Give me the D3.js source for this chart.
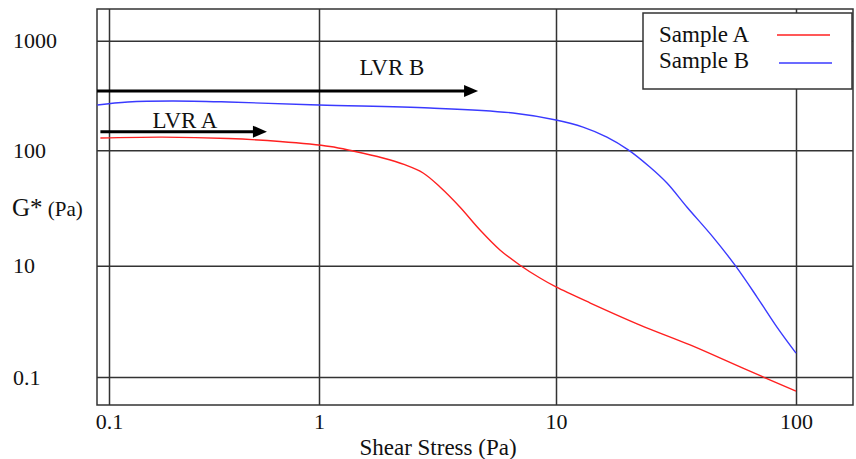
<!DOCTYPE html>
<html>
<head>
<meta charset="utf-8">
<script src="https://cdn.jsdelivr.net/npm/d3@7"></script>
<style>
  body { margin: 0; background: #fff; }
  svg text { font-family: "Liberation Serif", "Times New Roman", serif; fill: #111; }
</style>
</head>
<body>
<div id="chart"></div>
<script>
// data (shear stress in Pa, G* in Pa)
let xTicks = [0.1, 1, 10, 100];
let xTickLabels = ["0.1", "1", "10", "100"];
let yTicks = [1000, 100, 10, 1];
let yTickLabels = ["1000", "100", "10", "0.1"];

let stressA = [0.091, 0.179, 0.37, 0.652, 1.113, 1.39, 1.86, 2.3, 2.75, 3.24, 3.93, 4.78, 5.8, 7.05, 8.56, 10, 13.9, 22.4, 36.2, 60.1, 100];
let gA = [129.5, 132, 128.1, 120.3, 108.3, 98.6, 85.8, 75, 63.6, 48.1, 32.3, 20.4, 13.7, 10.1, 7.75, 6.44, 4.62, 2.93, 1.94, 1.2, 0.748];

let stressB = [0.088, 0.123, 0.2, 0.37, 1.0, 2.94, 6.59, 10, 12.96, 16.3, 20, 24.6, 29.0, 35.1, 45.1, 55.7, 68.8, 83.3, 100];
let gB = [259, 276, 282, 276, 259, 243, 219, 189, 163, 132, 101, 71.7, 52.1, 32.3, 17.7, 10.1, 5.23, 2.81, 1.64];

// linear viscoelastic region arrows: [from, to, level]
let lvrA = [0.091, 0.565, 148];
let lvrB = [0.0877, 4.69, 348];

let svgWidth = 856;
let svgHeight = 459;
let frame = { left: 97, top: 9, right: 853, bottom: 405 };

let svg = d3.select("#chart")
  .append("svg")
  .attr("width", svgWidth)
  .attr("height", svgHeight);

// the decades are not quite evenly spaced in the original, so piecewise log scales
let x = d3.scaleLog()
  .domain([0.1, 1, 10, 100])
  .range([109, 319, 556, 796]);

let y = d3.scaleLog()
  .domain([1000, 100, 10, 1])
  .range([40.7, 150.3, 265.7, 377]);

let gridColor = "#333";

// grid via axes
let xAxis = d3.axisBottom(x)
  .tickValues(xTicks)
  .tickSize(-(frame.bottom - frame.top))
  .tickFormat((d, i) => xTickLabels[i]);

let gx = svg.append("g")
  .attr("transform", `translate(0, ${frame.bottom})`)
  .call(xAxis);
gx.select(".domain").remove();
gx.selectAll("line").attr("stroke", gridColor).attr("stroke-width", 1.5);
gx.selectAll("text")
  .attr("y", 24)
  .attr("dy", 0)
  .attr("font-size", 22)
  .attr("font-family", "Liberation Serif, serif")
  .attr("fill", "#111");

let yAxis = d3.axisLeft(y)
  .tickValues(yTicks)
  .tickSize(-(frame.right - frame.left))
  .tickFormat((d, i) => yTickLabels[i]);

let gy = svg.append("g")
  .attr("transform", `translate(${frame.left}, 0)`)
  .call(yAxis);
gy.select(".domain").remove();
gy.selectAll("line").attr("stroke", gridColor).attr("stroke-width", 1.5);
gy.selectAll("text")
  .attr("x", 13 - frame.left)
  .attr("dy", 7)
  .attr("text-anchor", "start")
  .attr("font-size", 22)
  .attr("font-family", "Liberation Serif, serif")
  .attr("fill", "#111");

// frame
svg.append("rect")
  .attr("x", frame.left)
  .attr("y", frame.top)
  .attr("width", frame.right - frame.left)
  .attr("height", frame.bottom - frame.top)
  .attr("fill", "none")
  .attr("stroke", gridColor)
  .attr("stroke-width", 1.5);

// curves
let line = d3.line()
  .x(d => x(d[0]))
  .y(d => y(d[1]))
  .curve(d3.curveCatmullRom.alpha(0.5));

svg.append("path")
  .datum(d3.zip(stressA, gA))
  .attr("d", line)
  .attr("fill", "none")
  .attr("stroke", "#ff2020")
  .attr("stroke-width", 1.4);

svg.append("path")
  .datum(d3.zip(stressB, gB))
  .attr("d", line)
  .attr("fill", "none")
  .attr("stroke", "#3a3aff")
  .attr("stroke-width", 1.4);

// LVR arrows
function arrow(lvr, label, labelX, labelUp) {
  let x0 = x(lvr[0]), x1 = x(lvr[1]), yy = y(lvr[2]);
  svg.append("line")
    .attr("x1", x0).attr("x2", x1 - 10)
    .attr("y1", yy).attr("y2", yy)
    .attr("stroke", "#000")
    .attr("stroke-width", 3);
  svg.append("path")
    .attr("d", `M${x1 - 14},${yy - 6}L${x1},${yy}L${x1 - 14},${yy + 6}Z`)
    .attr("fill", "#000");
  svg.append("text")
    .attr("x", x(labelX))
    .attr("y", yy - labelUp)
    .attr("text-anchor", "middle")
    .attr("font-size", 23)
    .text(label);
}
arrow(lvrA, "LVR A", 0.23, 4);
arrow(lvrB, "LVR B", 2.03, 16);

// y title
let yt = svg.append("text")
  .attr("x", 12)
  .attr("y", 216);
yt.append("tspan").attr("font-size", 25).text("G*");
yt.append("tspan").attr("font-size", 21).text(" (Pa)");

// x title
svg.append("text")
  .attr("x", 438)
  .attr("y", 455)
  .attr("text-anchor", "middle")
  .attr("font-size", 23)
  .text("Shear Stress (Pa)");

// legend
let legend = svg.append("g");
legend.append("rect")
  .attr("x", 643).attr("y", 13)
  .attr("width", 209).attr("height", 76)
  .attr("fill", "#fff")
  .attr("stroke", gridColor)
  .attr("stroke-width", 1.5);

let legendItems = [
  { name: "Sample A", color: "#ff2020" },
  { name: "Sample B", color: "#3a3aff" }
];
legendItems.forEach(function(d, i) {
  legend.append("text")
    .attr("x", 659)
    .attr("y", 42 + i * 26)
    .attr("font-size", 23)
    .text(d.name);
  legend.append("line")
    .attr("x1", 777 + i * 2).attr("x2", 830 + i * 2)
    .attr("y1", 35 + i * 28).attr("y2", 35 + i * 28)
    .attr("stroke", d.color)
    .attr("stroke-width", 1.5);
});
</script>
</body>
</html>
